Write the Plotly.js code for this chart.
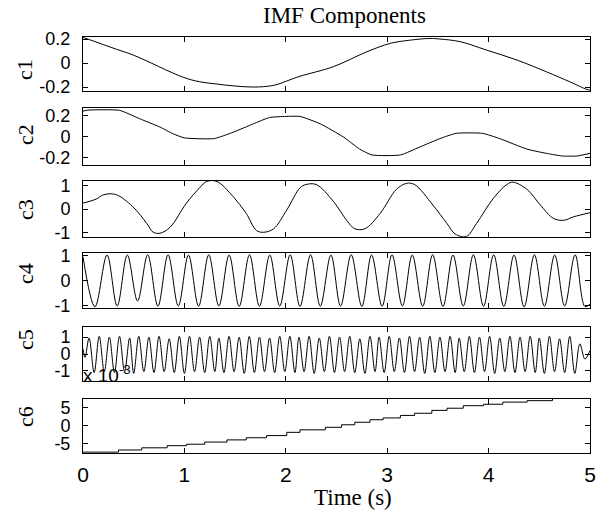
<!DOCTYPE html>
<html><head><meta charset="utf-8">
<script src="https://cdn.plot.ly/plotly-3.0.1.min.js"></script>
<style>html,body{margin:0;padding:0;background:#fff}</style>
</head><body><div id="chart" style="width:606px;height:515px"></div>
<script>
// ---- data ----
const c1T = [0, 0.33, 0.50, 0.99, 1.15, 1.32, 1.48, 1.68, 1.88, 2.04, 2.14, 2.47, 2.80, 3.03, 3.22, 3.42, 3.52, 3.72, 3.98, 4.28, 4.57, 4.80, 4.97, 5.0];
const c1V = [0.214, 0.115, 0.065, -0.119, -0.156, -0.175, -0.19, -0.2, -0.186, -0.14, -0.11, -0.03, 0.094, 0.164, 0.19, 0.205, 0.2, 0.178, 0.108, 0.025, -0.073, -0.156, -0.22, -0.225];

const c2T = [0, 0.05, 0.36, 0.56, 0.76, 0.89, 1.0, 1.29, 1.48, 1.68, 1.84, 2.0, 2.14, 2.34, 2.57, 2.73, 2.85, 3.13, 3.32, 3.52, 3.68, 3.94, 4.11, 4.38, 4.60, 4.73, 4.87, 5.0];
const c2V = [0.24, 0.25, 0.248, 0.168, 0.089, 0.025, -0.013, -0.02, 0.04, 0.12, 0.18, 0.19, 0.19, 0.12, -0.006, -0.12, -0.175, -0.175, -0.1, -0.02, 0.03, 0.03, -0.02, -0.12, -0.165, -0.185, -0.185, -0.16];

const c3T = [0, 0.13, 0.20, 0.32, 0.49, 0.63, 0.69, 0.76, 0.86, 1.02, 1.15, 1.22, 1.32, 1.48, 1.61, 1.71, 1.78, 1.88, 2.01, 2.14, 2.20, 2.30, 2.47, 2.60, 2.68, 2.78, 2.93, 3.09, 3.19, 3.27, 3.45, 3.59, 3.67, 3.78, 3.88, 4.05, 4.18, 4.24, 4.38, 4.51, 4.64, 4.74, 4.84, 5.0];
const c3V = [0.25, 0.42, 0.6, 0.62, 0.1, -0.62, -0.98, -1.03, -0.77, 0.25, 0.9, 1.17, 1.17, 0.53, -0.19, -0.91, -0.99, -0.84, -0.04, 0.9, 1.04, 1.04, 0.32, -0.48, -0.84, -0.84, -0.19, 0.83, 1.09, 1.04, 0.17, -0.62, -1.06, -1.17, -0.62, 0.47, 1.04, 1.14, 0.83, 0.17, -0.4, -0.48, -0.33, -0.16];

const c4PeakT = [0, 0.237, 0.437, 0.638, 0.839, 1.040, 1.240, 1.441, 1.642, 1.842, 2.043, 2.244, 2.445, 2.645, 2.846, 3.047, 3.247, 3.448, 3.649, 3.850, 4.050, 4.251, 4.452, 4.652, 4.853];
const c4PeakV = [0.95, 1.02, 1.02, 1.03, 1.03, 1.02, 1.03, 1.02, 1.03, 1.02, 1.03, 1.03, 1.02, 1.03, 1.02, 1.03, 1.02, 1.03, 1.02, 1.03, 1.03, 1.02, 1.03, 1.02, 1.03];
const c4TroughT = [0.118, 0.337, 0.538, 0.739, 0.94, 1.14, 1.34, 1.54, 1.74, 1.94, 2.14, 2.34, 2.54, 2.75, 2.95, 3.15, 3.35, 3.55, 3.75, 3.95, 4.15, 4.35, 4.55, 4.75, 4.95, 5.0];
const c4TroughV = [-1.05, -1.02, -0.82, -1.03, -1.02, -1.03, -1.02, -1.04, -1.03, -1.02, -1.04, -1.03, -1.02, -1.04, -1.03, -1.02, -1.03, -1.04, -1.02, -1.03, -1.04, -1.06, -1.03, -1.02, -1.04, -0.95];

const c5PeakT = [0, 0.06, 0.16, 0.26, 0.36, 0.46, 0.55, 0.65, 0.75, 0.85, 0.95, 1.05, 1.15, 1.25, 1.34, 1.44, 1.54, 1.64, 1.74, 1.84, 1.94, 2.04, 2.13, 2.23, 2.33, 2.43, 2.53, 2.63, 2.73, 2.83, 2.92, 3.02, 3.12, 3.22, 3.32, 3.42, 3.52, 3.62, 3.71, 3.81, 3.91, 4.01, 4.11, 4.21, 4.31, 4.41, 4.50, 4.60, 4.70, 4.80, 4.90];
const c5PeakV = [0.3, 0.95, 1.05, 1.0, 1.05, 0.95, 1.05, 1.0, 1.05, 0.9, 1.05, 1.05, 1.0, 1.05, 0.95, 1.05, 1.0, 1.05, 1.0, 0.95, 1.05, 1.05, 1.0, 1.05, 0.95, 1.05, 1.0, 1.05, 0.9, 1.05, 1.0, 1.05, 0.95, 1.05, 1.0, 1.05, 1.0, 1.05, 0.95, 1.05, 1.0, 1.05, 0.95, 1.05, 1.0, 1.05, 0.95, 1.05, 0.9, 1.05, 0.6];
const c5TroughT = [0.02, 0.11, 0.21, 0.31, 0.41, 0.50, 0.60, 0.70, 0.80, 0.90, 1.00, 1.10, 1.20, 1.30, 1.39, 1.49, 1.59, 1.69, 1.79, 1.89, 1.99, 2.09, 2.18, 2.28, 2.38, 2.48, 2.58, 2.68, 2.78, 2.88, 2.97, 3.07, 3.17, 3.27, 3.37, 3.47, 3.57, 3.67, 3.76, 3.86, 3.96, 4.06, 4.16, 4.26, 4.36, 4.46, 4.55, 4.65, 4.75, 4.85, 4.95, 5.0];
const c5TroughV = [-0.2, -1.1, -1.05, -1.1, -1.05, -1.15, -1.05, -1.1, -1.05, -1.1, -1.15, -1.05, -1.1, -1.05, -1.1, -1.05, -1.15, -1.1, -1.05, -1.1, -1.05, -1.1, -1.05, -1.15, -1.05, -1.1, -1.05, -1.1, -1.15, -1.05, -1.1, -1.05, -1.1, -1.05, -1.15, -1.1, -1.05, -1.1, -1.05, -1.1, -1.05, -1.15, -1.05, -1.1, -1.05, -1.1, -1.15, -1.05, -1.1, -1.15, -0.3, 0.2];

// c6 in units of 1e-3 (staircase)
const c6T = [0, 0.35, 0.58, 0.83, 1.02, 1.20, 1.42, 1.61, 1.81, 2.01, 2.14, 2.39, 2.55, 2.68, 2.83, 2.96, 3.13, 3.27, 3.44, 3.59, 3.75, 3.95, 4.14, 4.38, 4.63, 5.0];
const c6V = [-7.4, -6.8, -6.2, -5.6, -5.2, -4.6, -4.0, -3.4, -2.8, -1.9, -1.2, -0.5, 0.2, 0.9, 1.6, 2.1, 2.8, 3.4, 4.2, 4.8, 5.5, 5.9, 6.5, 6.9, 7.6, 7.6];

const xTicks = [0, 1, 2, 3, 4, 5];
const labels = ['c1', 'c2', 'c3', 'c4', 'c5', 'c6'];
const yTicks = [[-0.2, 0, 0.2], [-0.2, 0, 0.2], [-1, 0, 1], [-1, 0, 1], [-1, 0, 1], [-5, 0, 5]];
const yTickText = [['-0.2', '0', '0.2'], ['-0.2', '0', '0.2'], ['-1', '0', '1'], ['-1', '0', '1'], ['-1', '0', '1'], ['-5', '0', '5']];
const yRanges = [[-0.233, 0.217], [-0.27, 0.27], [-1.19, 1.19], [-1.1, 1.1], [-1.6, 1.6], [-7.64, 7.36]];

// ---- helpers ----
function merge(t1, v1, t2, v2) {
  const pts = [];
  t1.forEach((t, i) => pts.push([t, v1[i]]));
  t2.forEach((t, i) => pts.push([t, v2[i]]));
  pts.sort((a, b) => a[0] - b[0]);
  return {x: pts.map(p => p[0]), y: pts.map(p => p[1])};
}
const c4 = merge(c4PeakT, c4PeakV, c4TroughT, c4TroughV);
const c5 = merge(c5PeakT, c5PeakV, c5TroughT, c5TroughV);

const W = 606, H = 515;
const xPix = [83, 590];
const yPix = [[37, 91], [108, 165], [181, 237], [253, 308], [327, 381], [399, 453]];
const labelY = [70, 135, 210, 274, 340, 417];

const series = [
  {x: c1T, y: c1V, shape: 'spline', sm: 1},
  {x: c2T, y: c2V, shape: 'spline', sm: 0.5},
  {x: c3T, y: c3V, shape: 'spline', sm: 1},
  {x: c4.x, y: c4.y, shape: 'spline', sm: 1},
  {x: c5.x, y: c5.y, shape: 'spline', sm: 1},
  {x: c6T, y: c6V, shape: 'hv', sm: 1}
];

const data = [];
const layout = {
  width: W, height: H,
  margin: {l: 0, r: 0, t: 0, b: 0},
  paper_bgcolor: '#fff', plot_bgcolor: '#fff',
  showlegend: false,
  annotations: [],
  font: {family: 'Liberation Sans, Arial, sans-serif', color: '#000'}
};

series.forEach((s, i) => {
  const n = i + 1;
  const xa = n === 1 ? 'x' : 'x' + n;
  const ya = n === 1 ? 'y' : 'y' + n;
  data.push({
    x: s.x, y: s.y, xaxis: xa, yaxis: ya, type: 'scatter', mode: 'lines',
    line: {color: '#000', width: 1, shape: s.shape, smoothing: s.sm},
    hoverinfo: 'skip', cliponaxis: true
  });
  const xk = n === 1 ? 'xaxis' : 'xaxis' + n;
  const yk = n === 1 ? 'yaxis' : 'yaxis' + n;
  layout[xk] = {
    domain: [xPix[0] / W, xPix[1] / W],
    anchor: ya, range: [0, 5], tickvals: xTicks, ticktext: xTicks.map(String),
    ticks: 'inside', ticklen: 5, tickwidth: 1, tickcolor: '#000',
    showline: true, linecolor: '#000', linewidth: 1, mirror: 'ticks',
    showgrid: false, zeroline: false,
    showticklabels: n === 6,
    tickfont: {family: 'Liberation Sans, Arial, sans-serif', size: 21, color: '#000'},
    ticklabelstandoff: 3
  };
  layout[yk] = {
    domain: [1 - yPix[i][1] / H, 1 - yPix[i][0] / H],
    anchor: xa, range: yRanges[i], tickvals: yTicks[i], ticktext: yTickText[i],
    ticks: 'inside', ticklen: 5, tickwidth: 1, tickcolor: '#000',
    showline: true, linecolor: '#000', linewidth: 1, mirror: 'ticks',
    showgrid: false, zeroline: false,
    tickfont: {family: 'Liberation Sans, Arial, sans-serif', size: 18, color: '#000'},
    ticklabelstandoff: 8
  };
  layout.annotations.push({
    text: labels[i], xref: 'paper', yref: 'paper',
    x: 25 / W, y: 1 - labelY[i] / H, xanchor: 'center', yanchor: 'middle',
    textangle: -90, showarrow: false,
    font: {family: 'Liberation Serif, Times New Roman, serif', size: 22, color: '#000'}
  });
});

layout.annotations.push({
  text: 'IMF Components', xref: 'paper', yref: 'paper',
  x: 344 / W, y: 1 - 16 / H, xanchor: 'center', yanchor: 'middle', showarrow: false,
  font: {family: 'Liberation Serif, Times New Roman, serif', size: 23, color: '#000'}
});
layout.annotations.push({
  text: 'Time (s)', xref: 'paper', yref: 'paper',
  x: 353 / W, y: 1 - 497 / H, xanchor: 'center', yanchor: 'middle', showarrow: false,
  font: {family: 'Liberation Serif, Times New Roman, serif', size: 23, color: '#000'}
});
layout.annotations.push({
  text: 'x 10<sup>-3</sup>', xref: 'paper', yref: 'paper',
  x: 81 / W, y: 1 - 388 / H, xanchor: 'left', yanchor: 'bottom', showarrow: false,
  font: {family: 'Liberation Sans, Arial, sans-serif', size: 19, color: '#000'}
});

Plotly.newPlot('chart', data, layout, {staticPlot: true, displayModeBar: false});
</script>
</body></html>
